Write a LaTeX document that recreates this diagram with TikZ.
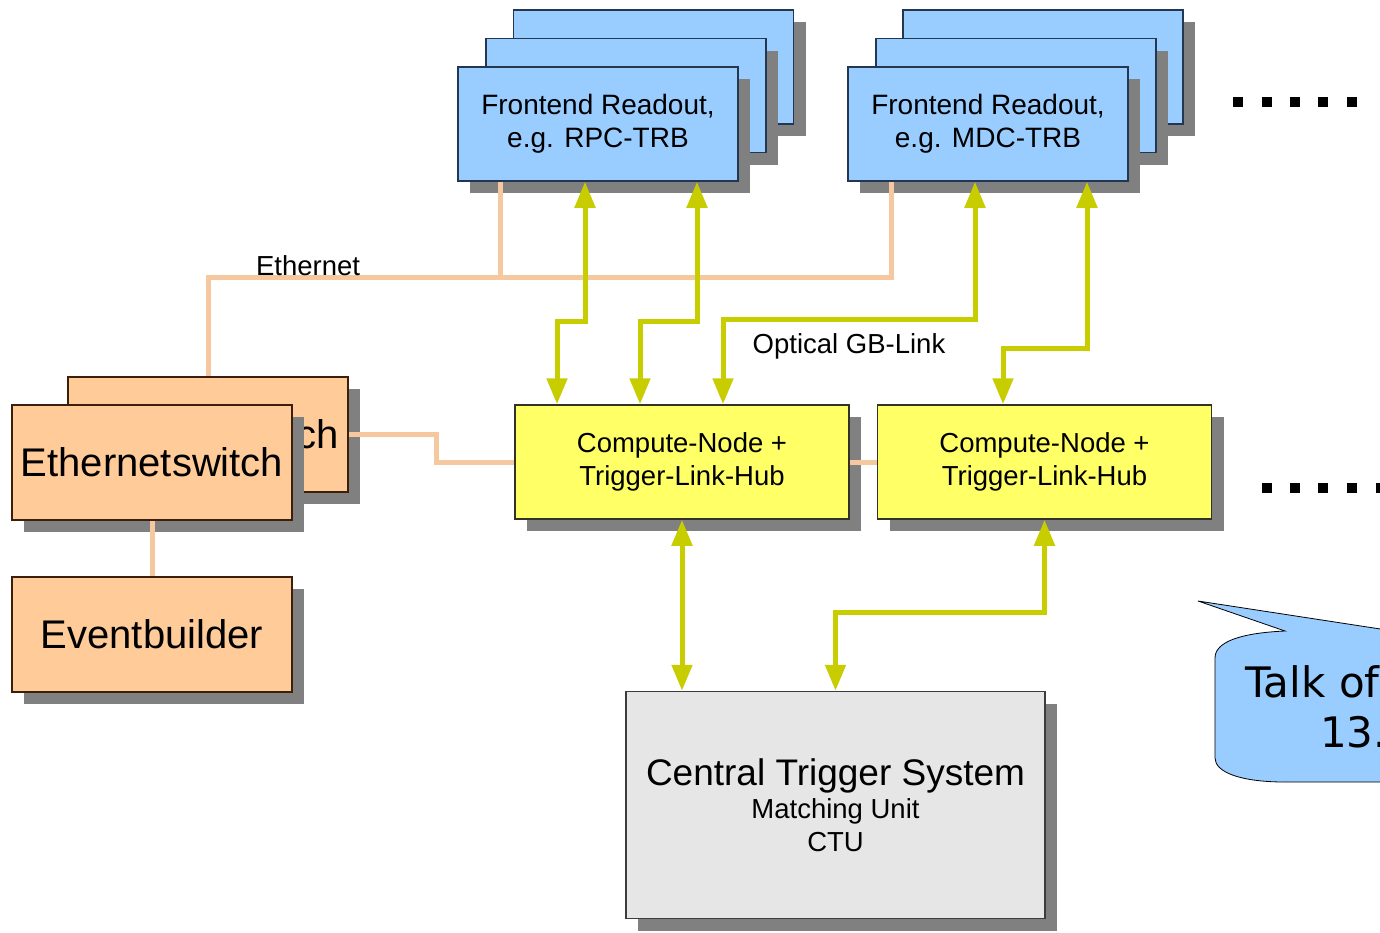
\documentclass[tikz,border=0pt]{standalone}
\usepackage{fontspec}
\setmainfont{Liberation Sans}
\newfontfamily\callfont{DejaVu Sans}
\usetikzlibrary{arrows.meta,shadows}
\definecolor{feblue}{RGB}{153,204,255}
\definecolor{feborder}{RGB}{35,55,80}
\definecolor{peach}{RGB}{255,204,153}
\definecolor{peachborder}{RGB}{60,30,10}
\definecolor{cnyellow}{RGB}{255,255,102}
\definecolor{cnborder}{RGB}{50,50,40}
\definecolor{ctsgray}{RGB}{230,230,230}
\definecolor{ctsborder}{RGB}{60,60,60}
\definecolor{shadowgray}{RGB}{128,128,128}
\definecolor{ethline}{RGB}{246,200,160}
\definecolor{optline}{RGB}{200,205,0}
\definecolor{callblue}{RGB}{153,204,255}
\begin{document}
\begin{tikzpicture}[x=1pt,y=-1pt,
  box/.style={rectangle, inner sep=0pt, line width=1.5pt, align=center,
    drop shadow={shadow xshift=12pt, shadow yshift=-12pt, fill=shadowgray, opacity=1}},
  febox/.style={box, fill=feblue, draw=feborder, minimum width=280pt, minimum height=114pt,
    font=\fontsize{28}{33}\selectfont},
  esbox/.style={box, fill=peach, draw=peachborder, minimum width=280pt, minimum height=115pt,
    font=\fontsize{40}{46}\selectfont},
  cnbox/.style={box, fill=cnyellow, draw=cnborder, minimum width=334pt, minimum height=114pt,
    font=\fontsize{27.5}{33}\selectfont},
  ctsbox/.style={box, fill=ctsgray, draw=ctsborder, minimum width=419pt, minimum height=227pt,
    font=\fontsize{27.5}{33}\selectfont},
  lbl/.style={inner sep=0pt, font=\fontsize{27.5}{33}\selectfont},
  eth/.style={draw=ethline, line width=5pt},
  opt/.style={draw=optline, line width=5pt,
    {Triangle[length=26pt,width=20pt]}-{Triangle[length=26pt,width=20pt]}},
  dotsq/.style={fill=black}
]
\useasboundingbox (0,0) rectangle (1380,932);

% Frontend stack 1
\node[febox] (fe1c) at (653.5,67) {};
\node[febox] (fe1b) at (626,95.5) {};
\node[febox] (fe1) at (598,124) {Frontend Readout,\\e.g. RPC-TRB};
% Frontend stack 2
\node[febox] (fe2c) at (1043,67) {};
\node[febox] (fe2b) at (1016,95.5) {};
\node[febox] (fe2) at (988,124) {Frontend Readout,\\e.g. MDC-TRB};

% Ethernet switches and eventbuilder
\node[esbox] (esb) at (208,434.5) {Ethernetswitch};
\node[esbox] (es) at (152,462.5) {Ethernetswitch};
\node[esbox] (eb) at (152,634.5) {Eventbuilder};

% Compute nodes
\node[cnbox] (cn1) at (682,462) {Compute-Node +\\Trigger-Link-Hub};
\node[cnbox] (cn2) at (1044.5,462) {Compute-Node +\\Trigger-Link-Hub};

% CTS
\node[ctsbox] (cts) at (835.5,805) {{\fontsize{37}{33}\selectfont Central Trigger System}\\Matching Unit\\CTU};

% Ethernet connections
\draw[eth] ([xshift=-98pt]fe1.south) -- ++(0,96);
\draw[eth] ([xshift=-97pt]fe2.south) -- ++(0,96) -| (esb.north);
\draw[eth] (esb.east) -- ++(88,0) |- (cn1.west);
\draw[eth] (cn1.east) -- (cn2.west);
\draw[eth] (es.south) -- (eb.north);
\node[lbl] (ethlbl) at (308,266) {Ethernet};

% Optical links
\draw[opt] ([xshift=-13pt]fe1.south) -- ++(0,140) -| ([xshift=-125pt]cn1.north);
\draw[opt] ([xshift=99pt]fe1.south) -- ++(0,140) -| ([xshift=-42pt]cn1.north);
\draw[opt] ([xshift=-13pt]fe2.south) -- ++(0,138) -| ([xshift=41pt]cn1.north);
\draw[opt] ([xshift=99pt]fe2.south) -- ++(0,167) -| ([xshift=-41.5pt]cn2.north);
\draw[opt] (cn1.south) -- (cn1.south |- cts.north);
\draw[opt] (cn2.south) -- ++(0,93) -| (cts.north);
\node[lbl] (optlbl) at (849,346) {Optical GB-Link};

% dots
\foreach \x in {1238,1267,1295,1323,1352} \fill[dotsq] (\x-5,97) rectangle ++(10,10);
\foreach \x in {1267,1295,1323,1352,1381} \fill[dotsq] (\x-5,483) rectangle ++(10,10);

% callout
\draw[fill=callblue, draw=black, line width=0.8pt] (1198,601) -- (1285,631)
  .. controls (1240,633) and (1215,642) .. (1215,658) -- (1215,758)
  .. controls (1215,772) and (1240,782) .. (1285,782) -- (1400,782) -- (1400,632) -- cycle;
\node[anchor=base west, inner sep=0pt, font=\callfont\fontsize{42}{50}\selectfont] (talk1) at (1245,697) {Talk of};
\node[anchor=base west, inner sep=0pt, font=\callfont\fontsize{42}{50}\selectfont] (talk2) at (1320,747) {13.};
\end{tikzpicture}
\end{document}
